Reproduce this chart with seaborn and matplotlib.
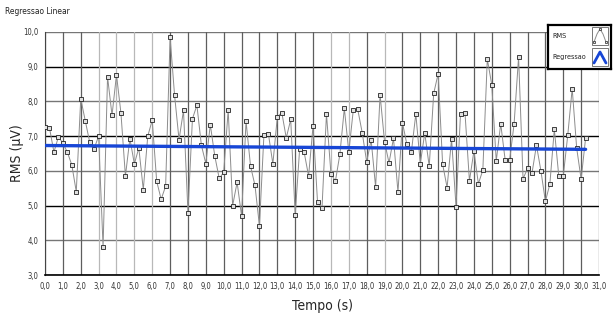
import numpy as np
import pandas as pd
import matplotlib
matplotlib.use("Agg")
import matplotlib.pyplot as plt
import seaborn as sns

# RMS samples, one every 0.25 s
rms = [
    7.27, 7.24, 6.54, 6.98, 6.80, 6.54, 6.17, 5.40, 8.08, 7.45,
    6.83, 6.64, 7.00, 3.81, 8.71, 7.60, 8.77, 7.66, 5.85, 6.93,
    6.20, 6.66, 5.46, 7.00, 7.46, 5.70, 5.18, 5.56, 9.85, 8.18,
    6.90, 7.74, 4.80, 7.50, 7.89, 6.74, 6.21, 7.33, 6.43, 5.78,
    5.96, 7.75, 5.00, 5.67, 4.70, 7.43, 6.14, 5.58, 4.41, 7.03,
    7.07, 6.20, 7.55, 7.68, 6.95, 7.48, 4.72, 6.64, 6.54, 5.85,
    7.30, 5.10, 4.93, 7.64, 5.92, 5.70, 6.48, 7.80, 6.54, 7.75,
    7.77, 7.10, 6.26, 6.89, 5.53, 8.19, 6.84, 6.23, 6.94, 5.39,
    7.39, 6.76, 6.54, 7.64, 6.21, 7.09, 6.13, 8.23, 8.80, 6.19,
    5.52, 6.92, 4.97, 7.64, 7.68, 5.71, 6.57, 5.63, 6.02, 9.22,
    8.48, 6.28, 7.36, 6.31, 6.31, 7.36, 9.28, 5.77, 6.07, 5.93,
    6.74, 6.00, 5.12, 5.62, 7.20, 5.85, 5.85, 7.02, 8.37, 6.66,
    5.76, 6.94,
]
tempo = [0.25 * i for i in range(len(rms))]

# Fitted regression line end points
reg_tempo = [0.0, 30.25]
reg_rms = [6.73, 6.62]

x_ticks = list(range(0, 32))
y_ticks = list(range(3, 11))

df = pd.DataFrame({"Tempo": tempo, "RMS": rms})
df_reg = pd.DataFrame({"Tempo": reg_tempo, "RMS": reg_rms})

sns.set_style("white")
plt.rcParams["font.family"] = ["DejaVu Sans"]
plt.rcParams["font.stretch"] = "condensed"

fig = plt.figure(figsize=(6.14, 3.26), dpi=100)
ax = fig.add_axes([45 / 614, 1 - 275 / 326, 554 / 614, 243 / 326])

ax.set_xlim(0, 31)
ax.set_ylim(3, 10)

# Grid: alternating dark/grey horizontals, mostly dark verticals
for v in y_ticks:
    col = "#000000" if v % 2 == 1 else "#767676"
    ax.axhline(v, color=col, lw=1.0, zorder=1)
light_cols = {3, 4, 5, 6, 16, 17, 19}
for v in x_ticks:
    col = "#b8b8b8" if v in light_cols else "#5e5e5e"
    ax.axvline(v, color=col, lw=0.9, zorder=1)

sns.lineplot(data=df, x="Tempo", y="RMS", ax=ax, color="#8c8c8c", lw=0.7,
             marker="s", markersize=2.4, markerfacecolor="#e0e0e0",
             markeredgecolor="#222222", markeredgewidth=0.6, zorder=3)
sns.lineplot(data=df_reg, x="Tempo", y="RMS", ax=ax, color="#1746d6",
             lw=2.4, zorder=4)

ax.set_xticks(x_ticks)
ax.set_xticklabels([f"{v:.1f}".replace(".", ",") for v in x_ticks])
ax.set_yticks(y_ticks)
ax.set_yticklabels([f"{v:.1f}".replace(".", ",") for v in y_ticks])
ax.tick_params(axis="both", labelsize=5.5, colors="#333333", length=3,
               width=0.8, direction="out", pad=2)

for side in ["top", "right"]:
    ax.spines[side].set_visible(False)
ax.spines["left"].set_color("#444444")
ax.spines["bottom"].set_color("#000000")
ax.spines["bottom"].set_linewidth(1.2)

ax.set_xlabel("Tempo (s)", fontsize=10, labelpad=6)
ax.set_ylabel("RMS (µV)", fontsize=10)
ax.yaxis.set_label_coords(-0.038, 0.5)

fig.text(5 / 614, 1 - 12 / 326, "Regressao Linear", fontsize=6,
         color="#222222", va="center", ha="left")

# Legend panel
lg = fig.add_axes([548 / 614, 1 - 69 / 326, 63 / 614, 44 / 326])
lg.set_xlim(0, 63)
lg.set_ylim(44, 0)
lg.set_xticks([])
lg.set_yticks([])
for s in lg.spines.values():
    s.set_linewidth(1.6)
    s.set_color("#000000")
lg.set_facecolor("white")
lg.text(4, 11, "RMS", fontsize=5.2, va="center", ha="left", color="#222222")
lg.text(4, 32, "Regressao", fontsize=5.2, va="center", ha="left",
        color="#222222")
for y0 in (2, 23):
    lg.add_patch(plt.Rectangle((44, y0), 16, 18, fill=False,
                               edgecolor="#777777", lw=0.7))
lg.plot([46, 49, 52, 55, 58], [17, 9, 4, 9, 17], color="#8c8c8c", lw=0.7)
lg.plot([46, 52, 58], [17, 4, 17], ls="none", marker="s", markersize=2,
        markerfacecolor="#e8e8e8", markeredgecolor="#222222",
        markeredgewidth=0.5)
lg.plot([46, 52, 58], [38, 27, 38], color="#1746d6", lw=2.0)

fig.savefig("out.png", dpi=100)
